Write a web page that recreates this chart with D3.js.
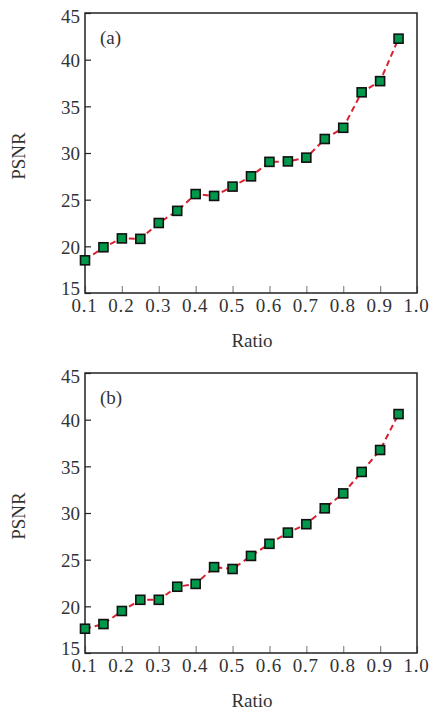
<!DOCTYPE html>
<html>
<head>
<meta charset="utf-8">
<script src="https://cdn.jsdelivr.net/npm/d3@7"></script>
<style>
  body { margin: 0; background: #fff; }
  svg text { font-family: "Liberation Serif", "DejaVu Serif", serif; fill: #333; }
</style>
</head>
<body>
<div id="chart"></div>
<script>
// data
const ratios = [0.1, 0.15, 0.2, 0.25, 0.3, 0.35, 0.4, 0.45, 0.5, 0.55,
                0.6, 0.65, 0.7, 0.75, 0.8, 0.85, 0.9, 0.95];
const psnrA = [18.5, 19.9, 20.85, 20.8, 22.5, 23.8, 25.6, 25.4, 26.4, 27.5,
               29.05, 29.1, 29.5, 31.5, 32.7, 36.5, 37.7, 42.25];
const psnrB = [17.6, 18.1, 19.5, 20.7, 20.7, 22.1, 22.4, 24.2, 24.0, 25.4,
               26.7, 27.9, 28.8, 30.5, 32.1, 34.4, 36.75, 40.6];
const xTicks = [0.1, 0.2, 0.3, 0.4, 0.5, 0.6, 0.7, 0.8, 0.9, 1.0];
const yTicks = [15, 20, 25, 30, 35, 40, 45];
const panels = [
    {tag: "(a)", values: psnrA, top: 13},
    {tag: "(b)", values: psnrB, top: 373}
];

const width = 431, height = 710;
const left = 85, right = 417, plotH = 280;

const svg = d3.select("#chart").append("svg")
    .attr("width", width)
    .attr("height", height);

const x = d3.scaleLinear().domain([0.1, 1.0]).range([left, right]);

panels.forEach(p => {
    const y = d3.scaleLinear().domain([15, 45]).range([p.top + plotH, p.top]);
    const g = svg.append("g");

    // y axis, ticks inward
    g.append("g")
        .attr("transform", "translate(" + left + ",0)")
        .call(d3.axisLeft(y).tickValues(yTicks).tickSize(-6).tickPadding(5))
        .call(a => a.select(".domain").remove())
        .call(a => a.selectAll("line").attr("stroke", "#222").attr("stroke-width", 1.2))
        .call(a => a.selectAll("text").style("font-size", "19px").attr("dy", "0.36em")
            // end labels sit a little inside the frame, like the original
            .attr("y", d => d === 15 ? -5 : (d === 45 ? 3 : 0)));

    // x axis, grey inward ticks
    g.append("g")
        .attr("transform", "translate(0," + (p.top + plotH) + ")")
        .call(d3.axisBottom(x).tickValues(xTicks).tickFormat(d3.format(".1f"))
            .tickSize(-7).tickPadding(6))
        .call(a => a.select(".domain").remove())
        .call(a => a.selectAll("line").attr("stroke", "#888").attr("stroke-width", 1.2))
        .call(a => a.selectAll("text").style("font-size", "19px")
            .style("letter-spacing", "0.8px").attr("x", -1));

    // frame
    g.append("rect")
        .attr("x", left)
        .attr("y", p.top)
        .attr("width", right - left)
        .attr("height", plotH)
        .attr("fill", "none")
        .attr("stroke", "#222")
        .attr("stroke-width", 1.5);

    const pts = ratios.map((r, i) => [r, p.values[i]]);

    // dashed red line
    g.append("path")
        .datum(pts)
        .attr("fill", "none")
        .attr("stroke", "#d8202f")
        .attr("stroke-width", 2)
        .attr("stroke-dasharray", "6,4")
        .attr("d", d3.line().x(d => x(d[0])).y(d => y(d[1])));

    // square markers
    g.selectAll(".mk")
        .data(pts)
        .enter().append("rect")
            .attr("class", "mk")
            .attr("x", d => x(d[0]) - 4.5)
            .attr("y", d => y(d[1]) - 4.5)
            .attr("width", 9)
            .attr("height", 9)
            .attr("fill", "#00984a")
            .attr("stroke", "#111")
            .attr("stroke-width", 1.6);

    // panel tag
    g.append("text")
        .attr("x", 100)
        .attr("y", p.top + 31)
        .style("font-size", "19px")
        .text(p.tag);

    // axis labels
    g.append("text")
        .attr("transform", "translate(25," + (p.top + plotH / 2 + 3) + ") rotate(-90)")
        .style("text-anchor", "middle")
        .style("font-size", "19px")
        .text("PSNR");

    g.append("text")
        .attr("x", (left + right) / 2 + 1)
        .attr("y", p.top + plotH + 54)
        .style("text-anchor", "middle")
        .style("font-size", "19px")
        .text("Ratio");
});
</script>
</body>
</html>
